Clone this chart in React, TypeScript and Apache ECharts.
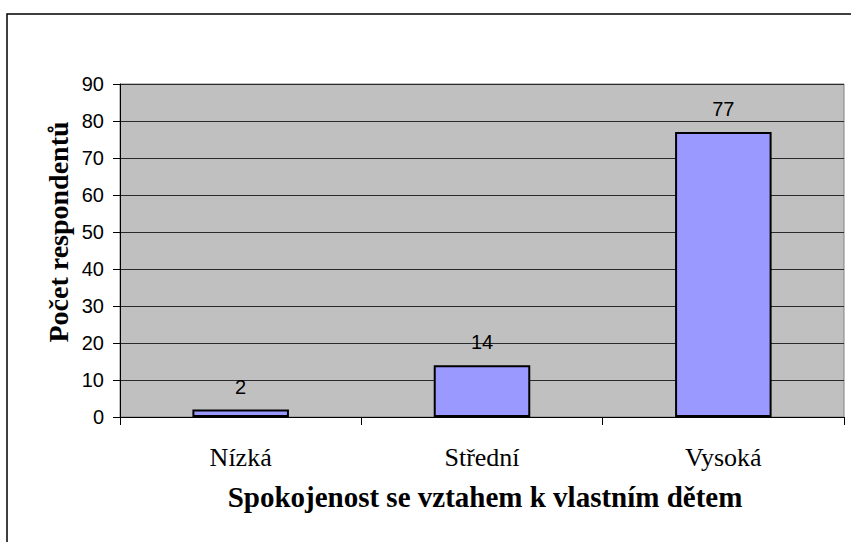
import React, { useEffect, useRef } from "react";
import * as echarts from "echarts";

const categories: string[] = ["Nízká", "Střední", "Vysoká"];
const values: number[] = [2, 14, 77];
const yTitle = "Počet respondentů";
const xTitle = "Spokojenost se vztahem k vlastním dětem";

const SANS = "'Liberation Sans', Arial, sans-serif";
const SERIF = "'Liberation Serif', 'Times New Roman', serif";

export default function App() {
  const ref = useRef<HTMLDivElement>(null);
  useEffect(() => {
    if (!ref.current) return;
    const chart = echarts.init(ref.current, undefined, { renderer: "svg" });
    chart.setOption({
      animation: false,
      backgroundColor: "#ffffff",
      grid: {
        left: 120,
        right: 7,
        top: 84,
        bottom: 125,
        show: true,
        backgroundColor: "#C0C0C0",
        borderColor: "#808080",
        borderWidth: 1,
      },
      xAxis: {
        type: "category",
        data: categories,
        boundaryGap: true,
        axisLine: { show: true, lineStyle: { color: "#000", width: 1 } },
        axisTick: { show: true, alignWithLabel: false, length: 8, lineStyle: { color: "#000" } },
        axisLabel: { fontFamily: SERIF, fontSize: 26, color: "#000", margin: 27 },
        splitLine: { show: false },
      },
      yAxis: {
        type: "value",
        min: 0,
        max: 90,
        interval: 10,
        axisLine: { show: true, lineStyle: { color: "#000", width: 1 } },
        axisTick: { show: true, length: 7, lineStyle: { color: "#000" } },
        axisLabel: { fontFamily: SANS, fontSize: 20, color: "#000", margin: 16 },
        splitLine: { show: true, lineStyle: { color: "#2a2a2a", width: 1 } },
      },
      series: [
        {
          type: "bar",
          data: values,
          barWidth: "40%",
          itemStyle: { color: "#9999FF", borderColor: "#000", borderWidth: 2 },
          label: {
            show: true,
            position: "top",
            distance: 13,
            fontFamily: SANS,
            fontSize: 20,
            color: "#000",
          },
        },
      ],
      graphic: [
        {
          type: "rect",
          shape: { x: 7, y: 14, width: 900, height: 600 },
          style: { fill: "none", stroke: "#000", lineWidth: 1.5 },
          silent: true,
        },
        {
          type: "text",
          x: 58,
          y: 232,
          rotation: Math.PI / 2,
          style: {
            text: yTitle,
            fontFamily: SERIF,
            fontWeight: "bold",
            fontSize: 28,
            fill: "#000",
            align: "center",
            verticalAlign: "middle",
          },
        },
        {
          type: "text",
          x: 485,
          y: 497,
          style: {
            text: xTitle,
            fontFamily: SERIF,
            fontWeight: "bold",
            fontSize: 29,
            fill: "#000",
            align: "center",
            verticalAlign: "middle",
          },
        },
      ],
    });
    return () => chart.dispose();
  }, []);
  return (
    <div
      ref={ref}
      style={{ position: "absolute", left: 0, top: 0, width: 851, height: 542 }}
    />
  );
}
